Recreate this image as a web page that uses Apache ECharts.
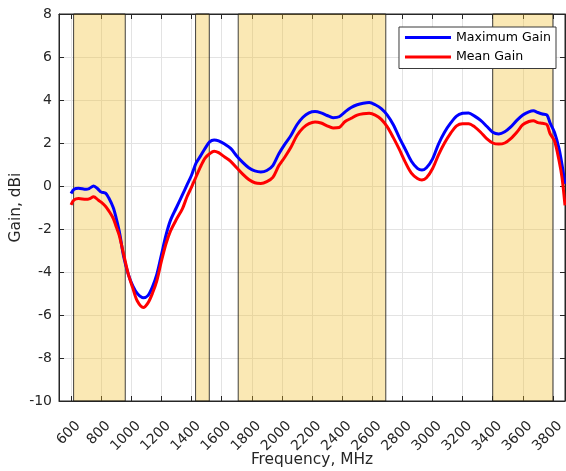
<!DOCTYPE html>
<html>
<head>
<meta charset="utf-8">
<script src="https://cdn.jsdelivr.net/npm/echarts@6/dist/echarts.min.js"></script>
<style>html,body{margin:0;padding:0;background:#fff;}#c{width:566px;height:471px;}</style>
</head>
<body>
<div id="c"></div>
<script>
const freq = [600,620,650,700,720,750,780,800,830,850,880,900,920,950,980,1010,1040,1080,1110,1140,1170,1200,1230,1260,1300,1340,1370,1400,1430,1460,1490,1520,1550,1580,1620,1660,1700,1740,1780,1820,1860,1900,1940,1980,2020,2060,2100,2140,2180,2220,2260,2300,2340,2380,2420,2460,2500,2540,2580,2620,2660,2700,2740,2780,2820,2860,2900,2930,2960,3000,3040,3080,3120,3160,3200,3240,3280,3320,3360,3400,3440,3480,3520,3560,3600,3640,3670,3700,3730,3760,3780,3810,3840,3860,3880];
const maxGain = [-0.35,-0.15,-0.1,-0.15,-0.12,0.0,-0.15,-0.28,-0.34,-0.55,-1.0,-1.5,-2.1,-3.3,-4.1,-4.65,-5.0,-5.2,-5.1,-4.7,-4.1,-3.2,-2.3,-1.6,-1.0,-0.4,0.05,0.5,1.06,1.4,1.75,2.05,2.14,2.1,1.95,1.75,1.4,1.1,0.85,0.7,0.65,0.72,0.95,1.5,1.95,2.35,2.85,3.2,3.4,3.46,3.4,3.28,3.18,3.22,3.45,3.65,3.78,3.85,3.88,3.78,3.6,3.3,2.85,2.25,1.7,1.15,0.82,0.74,0.85,1.25,1.95,2.5,2.92,3.25,3.38,3.4,3.25,3.05,2.78,2.5,2.42,2.52,2.75,3.05,3.3,3.45,3.5,3.42,3.35,3.3,2.95,2.5,1.75,1.0,0.1];
const meanGain = [-0.88,-0.65,-0.58,-0.62,-0.6,-0.5,-0.65,-0.75,-0.95,-1.15,-1.5,-1.9,-2.3,-3.2,-4.1,-4.75,-5.35,-5.65,-5.45,-5.0,-4.4,-3.5,-2.7,-2.1,-1.55,-1.05,-0.5,-0.05,0.43,0.9,1.3,1.5,1.62,1.55,1.35,1.15,0.85,0.55,0.3,0.15,0.12,0.2,0.4,0.95,1.35,1.8,2.35,2.7,2.9,2.98,2.93,2.8,2.7,2.72,3.0,3.15,3.3,3.36,3.38,3.3,3.1,2.75,2.25,1.7,1.1,0.6,0.35,0.28,0.38,0.8,1.45,2.0,2.45,2.8,2.9,2.9,2.75,2.5,2.2,2.0,1.95,2.0,2.2,2.5,2.85,3.0,3.04,2.95,2.92,2.85,2.45,2.1,1.2,0.4,-0.9];
const bandStart = [617,1427,1710,3400];
const bandEnd = [960,1518,2690,3800];
const xTicks = [600,800,1000,1200,1400,1600,1800,2000,2200,2400,2600,2800,3000,3200,3400,3600,3800];
const seriesNames = ['Maximum Gain','Mean Gain'];

const chart = echarts.init(document.getElementById('c'), null, {renderer:'canvas'});
const txt = '#262626';
const font = 'DejaVu Sans, Verdana, sans-serif';
const bands = bandStart.map((s,i)=>[{xAxis:s},{xAxis:bandEnd[i]}]);
const pairs = a => freq.map((f,i)=>[f,a[i]]);
const grid = {color:'#e3e3e3',width:1};

chart.setOption({
  animation:false,
  textStyle:{fontFamily:font},
  grid:{left:59,right:1,top:14,bottom:70,containLabel:false,outerBoundsMode:'none',
    show:true,borderColor:txt,borderWidth:1,backgroundColor:'#fff'},
  legend:{
    data:seriesNames, orient:'vertical', right:10, top:27,
    icon:'rect', itemWidth:46, itemHeight:3, itemGap:6.5,
    padding:[4,5,5,6], backgroundColor:'#fff', borderColor:'#3a3a3a', borderWidth:1,
    textStyle:{color:'#000',fontSize:12.6,fontFamily:font}
  },
  xAxis:[{
    type:'value', min:520, max:3880, position:'bottom',
    name:'Frequency, MHz', nameLocation:'middle', nameGap:51, nameMoveOverlap:false,
    nameTextStyle:{color:txt,fontSize:15.4,fontFamily:font},
    axisLine:{show:true,onZero:false,lineStyle:{color:txt}},
    axisTick:{show:true,inside:true,length:5,customValues:xTicks,lineStyle:{color:txt}},
    axisLabel:{show:true,rotate:45,verticalAlign:'top',customValues:xTicks,color:txt,fontSize:14,margin:7,
      padding:[9,6,0,0],fontFamily:font,formatter:v=>String(v)},
    splitLine:{show:true,lineStyle:grid}
  },{
    type:'value', min:520, max:3880, position:'top',
    axisLine:{show:true,onZero:false,lineStyle:{color:txt}},
    axisTick:{show:true,inside:true,length:5,customValues:xTicks,lineStyle:{color:txt}},
    axisLabel:{show:false}, splitLine:{show:false}
  }],
  yAxis:[{
    type:'value', min:-10, max:8, interval:2, position:'left',
    name:'Gain, dBi', nameLocation:'middle', nameGap:36, nameMoveOverlap:false,
    nameTextStyle:{color:txt,fontSize:15.4,fontFamily:font},
    axisLine:{show:true,onZero:false,lineStyle:{color:txt}},
    axisTick:{show:true,inside:true,length:5,lineStyle:{color:txt}},
    axisLabel:{color:txt,fontSize:14,margin:7,fontFamily:font},
    splitLine:{show:true,lineStyle:grid}
  },{
    type:'value', min:-10, max:8, interval:2, position:'right',
    axisLine:{show:true,onZero:false,lineStyle:{color:txt}},
    axisTick:{show:true,inside:true,length:5,lineStyle:{color:txt}},
    axisLabel:{show:false}, splitLine:{show:false}
  }],
  series:[
    {name:seriesNames[0], type:'line', data:pairs(maxGain), showSymbol:false, smooth:0.3, z:2,
      lineStyle:{color:'#0000ff',width:3}, itemStyle:{color:'#0000ff'}},
    {name:seriesNames[1], type:'line', data:pairs(meanGain), showSymbol:false, smooth:0.3, z:2,
      lineStyle:{color:'#ff0000',width:3}, itemStyle:{color:'#ff0000'}},
    {name:'bands', type:'line', data:[], z:3, silent:true,
      markArea:{silent:true,
        itemStyle:{color:'rgba(240,190,40,0.35)',borderColor:'rgba(30,30,30,0.85)',borderWidth:1},
        data:bands}}
  ]
});
</script>
</body>
</html>
